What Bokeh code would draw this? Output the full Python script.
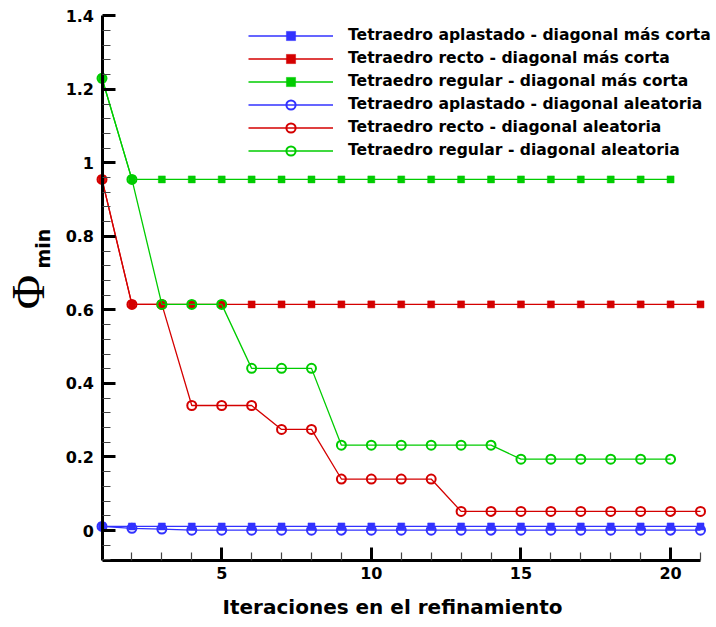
from bokeh.plotting import figure
from bokeh.models import FixedTicker, Label, Range1d, LinearAxis
from bokeh.embed import file_html
from bokeh.resources import INLINE

# ---------------- data ----------------
iters_21 = [1, 2, 3, 4, 5, 6, 7, 8, 9, 10, 11, 12, 13, 14, 15, 16, 17, 18, 19, 20, 21]
iters_20 = [1, 2, 3, 4, 5, 6, 7, 8, 9, 10, 11, 12, 13, 14, 15, 16, 17, 18, 19, 20]

aplastado_corta = [0.011, 0.011, 0.011, 0.011, 0.011, 0.011, 0.011, 0.011, 0.011, 0.011, 0.011,
                   0.011, 0.011, 0.011, 0.011, 0.011, 0.011, 0.011, 0.011, 0.011, 0.011]
recto_corta = [0.955, 0.615, 0.615, 0.615, 0.615, 0.615, 0.615, 0.615, 0.615, 0.615, 0.615,
               0.615, 0.615, 0.615, 0.615, 0.615, 0.615, 0.615, 0.615, 0.615, 0.615]
regular_corta = [1.23, 0.955, 0.955, 0.955, 0.955, 0.955, 0.955, 0.955, 0.955, 0.955,
                 0.955, 0.955, 0.955, 0.955, 0.955, 0.955, 0.955, 0.955, 0.955, 0.955]
aplastado_aleat = [0.011, 0.006, 0.004, 0.001, 0.001, 0.001, 0.001, 0.001, 0.001, 0.001, 0.001,
                   0.001, 0.001, 0.001, 0.001, 0.001, 0.001, 0.001, 0.001, 0.001, 0.001]
recto_aleat = [0.955, 0.615, 0.615, 0.34, 0.34, 0.34, 0.275, 0.275, 0.14, 0.14, 0.14,
               0.14, 0.052, 0.052, 0.052, 0.052, 0.052, 0.052, 0.052, 0.052, 0.052]
regular_aleat = [1.23, 0.955, 0.615, 0.615, 0.615, 0.441, 0.441, 0.441, 0.232, 0.232,
                 0.232, 0.232, 0.232, 0.232, 0.194, 0.194, 0.194, 0.194, 0.194, 0.194]

series_labels = [
    "Tetraedro aplastado - diagonal más corta",
    "Tetraedro recto - diagonal más corta",
    "Tetraedro regular - diagonal más corta",
    "Tetraedro aplastado - diagonal aleatoria",
    "Tetraedro recto - diagonal aleatoria",
    "Tetraedro regular - diagonal aleatoria",
]

x_ticks = [5, 10, 15, 20]
x_tick_labels = ["5", "10", "15", "20"]
x_minor = [1, 2, 3, 4, 6, 7, 8, 9, 11, 12, 13, 14, 16, 17, 18, 19, 21]
y_ticks = [0, 0.2, 0.4, 0.6, 0.8, 1, 1.2, 1.4]
y_tick_labels = ["0", "0.2", "0.4", "0.6", "0.8", "1", "1.2", "1.4"]
y_minor = [-0.08, -0.04, 0.04, 0.08, 0.12, 0.16, 0.24, 0.28, 0.32, 0.36, 0.44, 0.48, 0.52, 0.56,
           0.64, 0.68, 0.72, 0.76, 0.84, 0.88, 0.92, 0.96, 1.04, 1.08, 1.12, 1.16, 1.24, 1.28,
           1.32, 1.36]
x_axis_bounds = (1, 21)
y_axis_bounds = (-0.082, 1.4)

x_title = "Iteraciones en el refinamiento"
y_title_main = "Φ"
y_title_sub = "min"

BLUE = "#3232ff"
RED = "#d40000"
GREEN = "#00cc00"
FONT = "DejaVu Sans"

W, H = 716, 627
# pixel geometry of the axes box inside the canvas
AX_L, AX_R, AX_TOP_VAL_PX, AX_ZERO_PX = 101.5, 700.0, 15.3, 530.0
sx = (AX_R - AX_L) / (x_axis_bounds[1] - x_axis_bounds[0])
sy = (AX_ZERO_PX - AX_TOP_VAL_PX) / y_axis_bounds[1]
x_start = x_axis_bounds[0] - AX_L / sx
x_end = x_axis_bounds[1] + (W - AX_R) / sx
y_end = y_axis_bounds[1] + AX_TOP_VAL_PX / sy
y_start = -(H - AX_ZERO_PX) / sy

# ---------------- figure ----------------
p = figure(width=W, height=H, output_backend="svg", toolbar_location=None,
           x_range=Range1d(x_start, x_end), y_range=Range1d(y_start, y_end),
           x_axis_location=None, y_axis_location=None, min_border=0)
p.outline_line_color = None
p.grid.visible = False
p.background_fill_color = "white"
p.border_fill_color = "white"

series = [
    (iters_21, aplastado_corta, BLUE, "square"),
    (iters_21, recto_corta, RED, "square"),
    (iters_20, regular_corta, GREEN, "square"),
    (iters_21, aplastado_aleat, BLUE, "circle"),
    (iters_21, recto_aleat, RED, "circle"),
    (iters_20, regular_aleat, GREEN, "circle"),
]

for (xs, ys, col, mk), lab in zip(series, series_labels):
    p.line(xs, ys, line_color=col, line_width=1.3, legend_label=lab)
    if mk == "square":
        p.scatter(xs, ys, marker="square", size=7, fill_color=col, line_color=col,
                  line_width=0.5, legend_label=lab)
    else:
        p.scatter(xs, ys, marker="circle", size=9, fill_color=None, line_color=col,
                  line_width=2, legend_label=lab)

# ---------------- axes (fixed inside the canvas) ----------------
xaxis = LinearAxis(fixed_location=y_axis_bounds[0], bounds=x_axis_bounds,
                   ticker=FixedTicker(ticks=x_ticks, minor_ticks=x_minor),
                   major_label_overrides=dict(zip(x_ticks, x_tick_labels)))
yaxis = LinearAxis(fixed_location=x_axis_bounds[0], bounds=y_axis_bounds,
                   ticker=FixedTicker(ticks=y_ticks, minor_ticks=y_minor),
                   major_label_overrides=dict(zip(y_ticks, y_tick_labels)))
for ax in (xaxis, yaxis):
    ax.axis_line_width = 3
    ax.axis_line_color = "black"
    ax.major_tick_in = 13
    ax.major_tick_out = 0
    ax.minor_tick_in = 8
    ax.minor_tick_out = 0
    ax.major_tick_line_width = 3
    ax.major_tick_line_color = "black"
    ax.minor_tick_line_width = 1.2
    ax.minor_tick_line_color = "#444444"
    ax.major_label_text_font = FONT
    ax.major_label_text_font_style = "bold"
    ax.major_label_text_font_size = "16px"
    ax.major_label_text_color = "black"
xaxis.major_label_standoff = 6
yaxis.major_label_standoff = 8
p.add_layout(xaxis, "below")
p.add_layout(yaxis, "left")

# ---------------- titles ----------------
p.add_layout(Label(x=392, y=H - 606.5, x_units="screen", y_units="screen", text=x_title,
                   text_align="center", text_baseline="alphabetic",
                   text_font=FONT, text_font_style="bold", text_font_size="20px",
                   text_color="black"))
p.add_layout(Label(x=27, y=H - 291.5, x_units="screen", y_units="screen", text=y_title_main,
                   angle=1.5707963, text_align="center", text_baseline="alphabetic",
                   text_font="Liberation Serif", text_font_size="47px", text_color="black"))
p.add_layout(Label(x=42, y=H - 268, x_units="screen", y_units="screen", text=y_title_sub,
                   angle=1.5707963, text_align="left", text_baseline="alphabetic",
                   text_font=FONT, text_font_style="bold", text_font_size="19px",
                   text_color="black"))

# ---------------- legend ----------------
lg = p.legend[0]
lg.location = (248, H - 161.5)
lg.border_line_color = None
lg.background_fill_alpha = 0
lg.padding = 0
lg.margin = 0
lg.spacing = 0
lg.glyph_width = 85
lg.glyph_height = 23
lg.label_height = 23
lg.label_standoff = 15
lg.label_text_font = FONT
lg.label_text_font_style = "bold"
lg.label_text_font_size = "15.6px"
lg.label_text_color = "black"

open("out.html", "w").write(file_html(p, INLINE))
